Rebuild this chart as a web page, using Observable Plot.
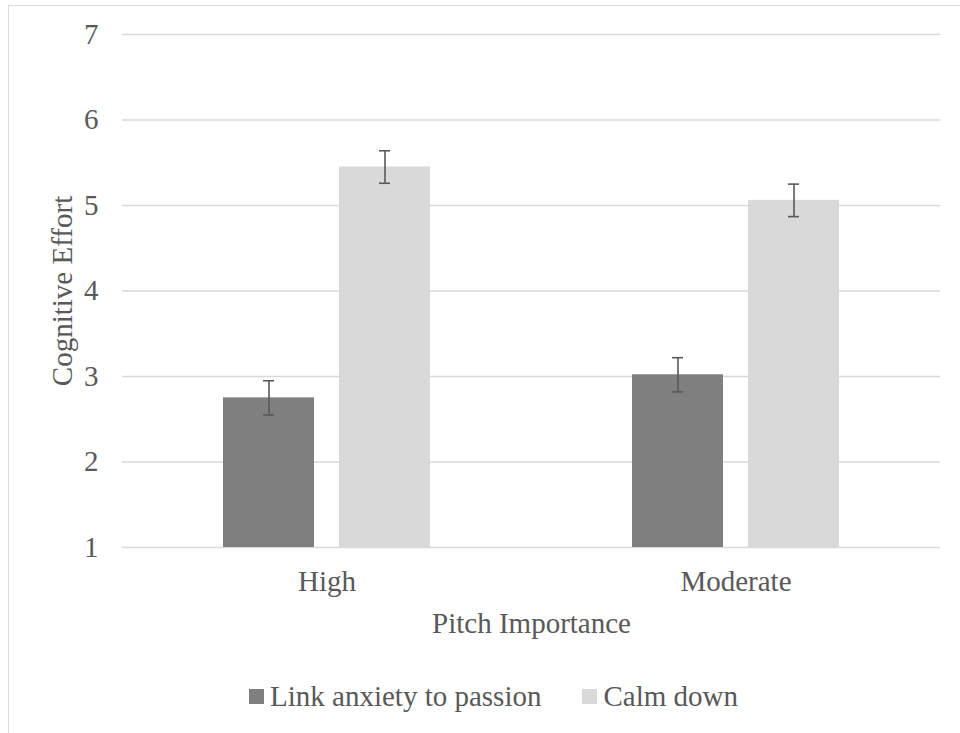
<!DOCTYPE html>
<html>
<head>
<meta charset="utf-8">
<script src="https://cdn.jsdelivr.net/npm/d3@7"></script>
<script src="https://cdn.jsdelivr.net/npm/@observablehq/plot@0.6"></script>
<style>
  html, body { margin: 0; padding: 0; background: #fff; overflow: hidden; }
  #wrap { position: relative; width: 960px; height: 733px; overflow: hidden; font-family: "Liberation Serif", "Times New Roman", serif; color: #595959; }
  #frame { position: absolute; left: 8px; top: 5px; width: 1000px; height: 800px; border: 1.5px solid #dcdcdc; box-sizing: border-box; pointer-events: none; }
  #chart { position: absolute; left: 0; top: 0; }
  #legend { position: absolute; left: 249px; top: 680px; display: flex; align-items: center; font-size: 29px; line-height: 32px; white-space: nowrap; }
  .item { display: flex; align-items: center; }
  .sw { width: 15px; height: 15px; margin-right: 6px; }
</style>
</head>
<body>
<div id="wrap">
  <div id="frame"></div>
  <div id="chart"></div>
  <div id="legend"></div>
</div>
<script>
const groups = ["High", "Moderate"];
const series = ["Link anxiety to passion", "Calm down"];
const linkValues = [2.75, 3.02];
const calmValues = [5.45, 5.06];
const linkErrors = [0.20, 0.20];
const calmErrors = [0.19, 0.19];
const yTicks = [1, 2, 3, 4, 5, 6, 7];
const colors = ["#7f7f7f", "#d9d9d9"];
const yBase = yTicks[0];

const rows = [];
groups.forEach((g, i) => {
  rows.push({group: g, series: series[0], value: linkValues[i], err: linkErrors[i]});
  rows.push({group: g, series: series[1], value: calmValues[i], err: calmErrors[i]});
});

const chart = Plot.plot({
  width: 960,
  height: 650,
  marginLeft: 121,
  marginRight: 20,
  marginTop: 34,
  marginBottom: 103,
  style: {fontFamily: "'Liberation Serif', 'Times New Roman', serif", fontSize: "29px", color: "#595959", background: "transparent", overflow: "visible"},
  fx: {domain: groups, padding: 0, axis: "bottom", tickSize: 0, tickPadding: 23, label: "Pitch Importance", labelAnchor: "center", labelOffset: 85},
  x: {domain: series, type: "band", paddingInner: 0.2146, paddingOuter: 0.865, axis: null},
  y: {domain: [yTicks[0], yTicks[yTicks.length - 1]], ticks: yTicks, tickFormat: d => String(d), tickSize: 0, tickPadding: 24, label: "Cognitive Effort", labelAnchor: "center", labelOffset: 71, labelArrow: "none"},
  color: {domain: series, range: colors},
  marks: [
    Plot.gridY(yTicks, {stroke: "#d9d9d9", strokeOpacity: 1, strokeWidth: 1.5}),
    Plot.barY(rows, {fx: "group", x: "series", y1: yBase, y2: "value", fill: "series"}),
    Plot.ruleX(rows, {fx: "group", x: "series", y1: d => d.value - d.err, y2: d => d.value + d.err, stroke: "#595959", strokeWidth: 1.6}),
    Plot.tickY(rows, {fx: "group", x: "series", y: d => d.value - d.err, stroke: "#595959", strokeWidth: 1.6, insetLeft: 40, insetRight: 40}),
    Plot.tickY(rows, {fx: "group", x: "series", y: d => d.value + d.err, stroke: "#595959", strokeWidth: 1.6, insetLeft: 40, insetRight: 40})
  ]
});
document.getElementById("chart").appendChild(chart);

const legend = document.getElementById("legend");
series.forEach((s, i) => {
  const item = document.createElement("div");
  item.className = "item";
  if (i > 0) item.style.marginLeft = "41px";
  const sw = document.createElement("div");
  sw.className = "sw";
  sw.style.background = colors[i];
  const t = document.createElement("span");
  t.textContent = s;
  item.appendChild(sw);
  item.appendChild(t);
  legend.appendChild(item);
});
</script>
</body>
</html>
